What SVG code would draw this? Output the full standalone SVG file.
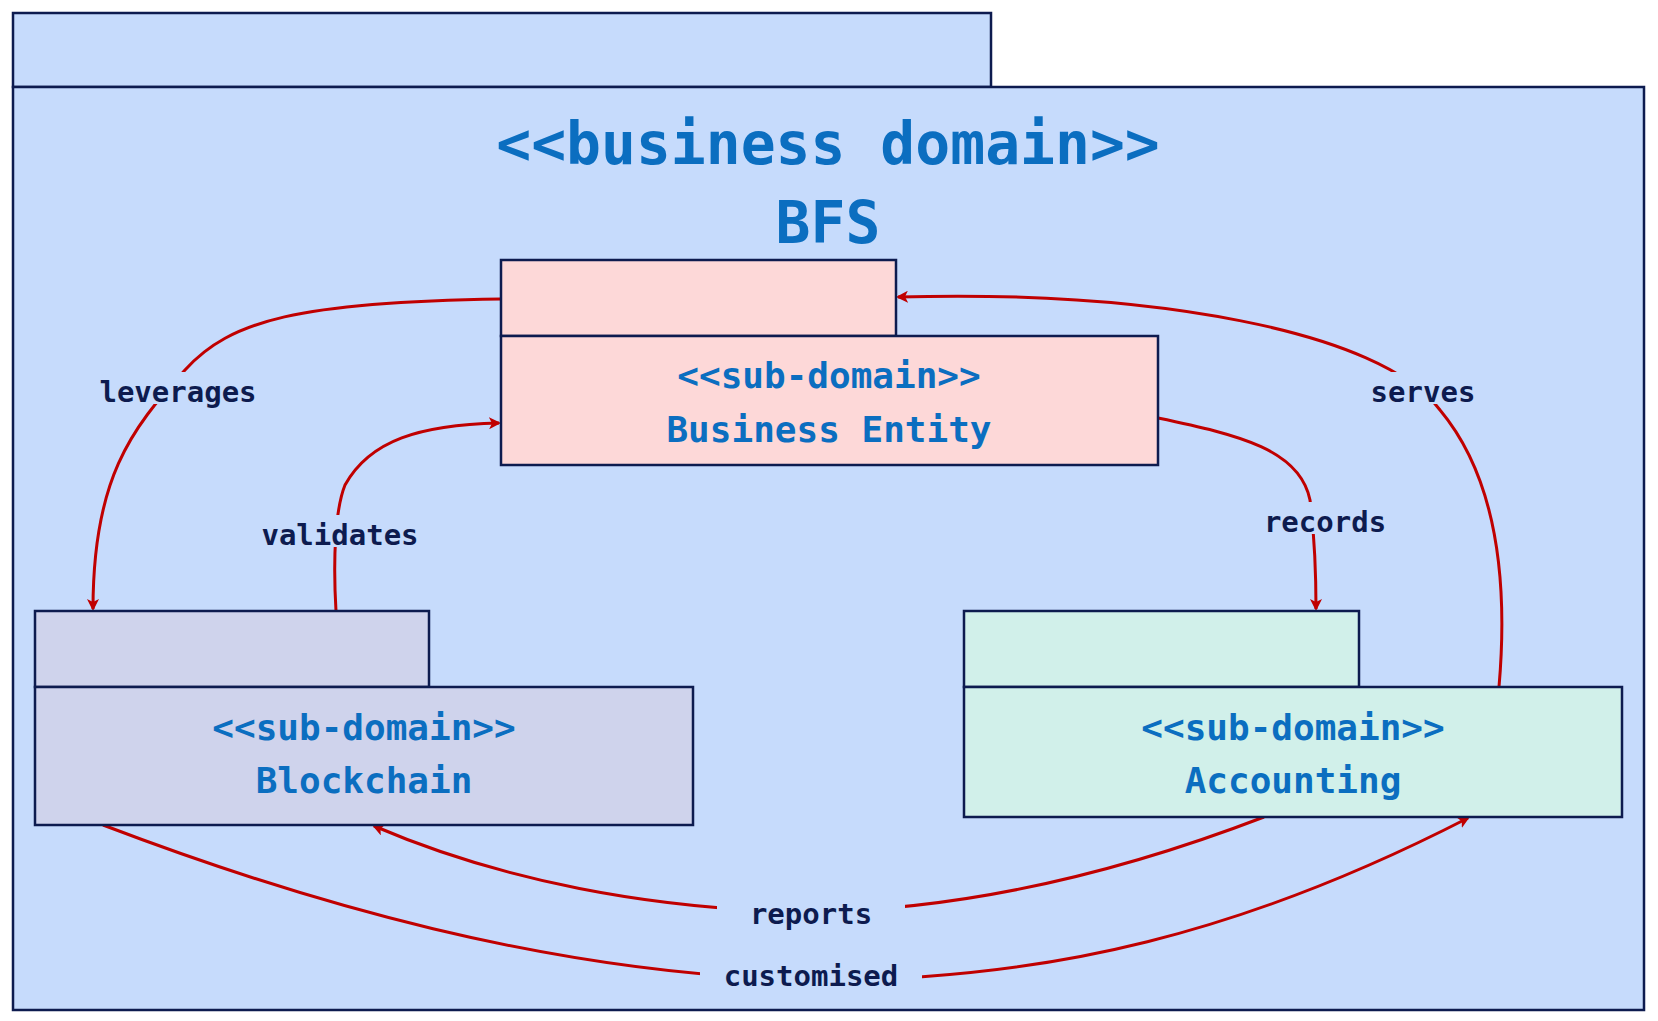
<svg xmlns="http://www.w3.org/2000/svg" width="1658" height="1021" viewBox="0 0 1658 1021">
<style>
.box{stroke:#0d1b4f;stroke-width:2.5}
.t{font-family:"DejaVu Sans Mono","Liberation Mono",monospace;font-weight:bold;fill:#0b6ec0;text-anchor:middle}
.e{fill:none;stroke:#c00000;stroke-width:3}
.lb{font-family:"DejaVu Sans Mono","Liberation Mono",monospace;font-weight:bold;fill:#0d1b4f;font-size:29px;text-anchor:middle}
.bg{fill:#c6dbfc}
</style>
<defs><marker id="a" markerWidth="12" markerHeight="12" refX="10" refY="6" orient="auto" markerUnits="userSpaceOnUse"><path d="M0,0 L12,6 L0,12 L3,6 z" fill="#c00000"/></marker></defs>
<g id="bfs">
<rect class="box" x="13" y="13" width="978" height="74" fill="#c6dbfc"/>
<rect class="box" x="13" y="87" width="1631" height="923" fill="#c6dbfc"/>
<text class="t" x="828" y="164" font-size="58">&lt;&lt;business domain&gt;&gt;</text>
<text class="t" x="828" y="243" font-size="58">BFS</text>
</g>
<g id="connectors">
<path class="e" d="M501,299 C300,302 230,320 185,370 C130,430 93,480 93,609" marker-end="url(#a)"/>
<path class="e" d="M336,611 C333,560 335,510 345,485 C370,440 420,425 499,423" marker-end="url(#a)"/>
<path class="e" d="M1499,687 C1510,560 1490,470 1440,410 C1380,330 1150,290 898,297" marker-end="url(#a)"/>
<path class="e" d="M1158,418 C1240,435 1300,450 1310,500 C1315,540 1316,570 1316,609" marker-end="url(#a)"/>
<path class="e" d="M1264,817 C1100,880 950,910 811,912 C650,910 500,880 374,826" marker-end="url(#a)"/>
<path class="e" d="M103,825 C300,900 550,975 811,980 C1050,982 1250,930 1468,818" marker-end="url(#a)"/>
<rect class="bg" x="80" y="372" width="196" height="32"/><text class="lb" x="178" y="402">leverages</text>
<rect class="bg" x="242" y="515" width="196" height="32"/><text class="lb" x="340" y="545">validates</text>
<rect class="bg" x="1356" y="372" width="134" height="32"/><text class="lb" x="1423" y="402">serves</text>
<rect class="bg" x="1245" y="502" width="160" height="32"/><text class="lb" x="1325" y="532">records</text>
<rect class="bg" x="717" y="898" width="188" height="32"/><text class="lb" x="811" y="924">reports</text>
<rect class="bg" x="700" y="960" width="222" height="32"/><text class="lb" x="811" y="986">customised</text>
</g>
<g id="business-entity">
<rect class="box" x="501" y="260" width="395" height="76" fill="#fdd8d8"/>
<rect class="box" x="501" y="336" width="657" height="129" fill="#fdd8d8"/>
<text class="t" x="829" y="388" font-size="36">&lt;&lt;sub-domain&gt;&gt;</text>
<text class="t" x="829" y="442" font-size="36">Business Entity</text>
</g>
<g id="blockchain">
<rect class="box" x="35" y="611" width="394" height="76" fill="#cfd3ec"/>
<rect class="box" x="35" y="687" width="658" height="138" fill="#cfd3ec"/>
<text class="t" x="364" y="740" font-size="36">&lt;&lt;sub-domain&gt;&gt;</text>
<text class="t" x="364" y="793" font-size="36">Blockchain</text>
</g>
<g id="accounting">
<rect class="box" x="964" y="611" width="395" height="76" fill="#d1f0ea"/>
<rect class="box" x="964" y="687" width="658" height="130" fill="#d1f0ea"/>
<text class="t" x="1293" y="740" font-size="36">&lt;&lt;sub-domain&gt;&gt;</text>
<text class="t" x="1293" y="793" font-size="36">Accounting</text>
</g>
</svg>
